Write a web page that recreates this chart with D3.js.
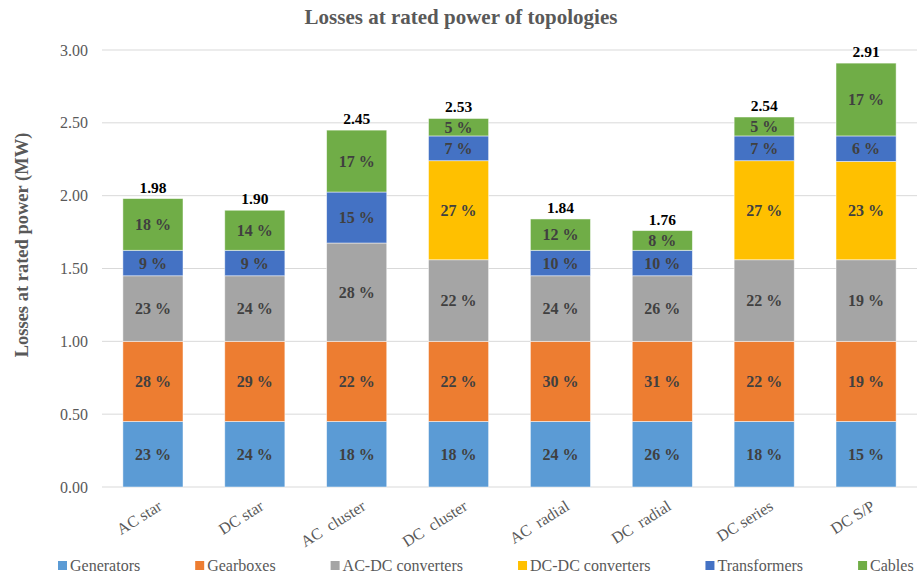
<!DOCTYPE html>
<html>
<head>
<meta charset="utf-8">
<script src="https://cdn.jsdelivr.net/npm/d3@7"></script>
<style>
  html, body { margin: 0; padding: 0; background: #fff; }
  svg { display: block; }
  text { font-family: "Liberation Serif", "Times New Roman", serif; }
</style>
</head>
<body>
<svg id="chart" width="922" height="576"></svg>
<script>
// ---- data ----
const categories = ["AC star", "DC star", "AC  cluster", "DC  cluster", "AC  radial", "DC  radial", "DC series", "DC S/P"];
const seriesNames = ["Generators", "Gearboxes", "AC-DC converters", "DC-DC converters", "Transformers", "Cables"];
const generators   = [0.45, 0.45, 0.45, 0.45, 0.45, 0.45, 0.45, 0.45];
const gearboxes    = [0.55, 0.55, 0.55, 0.55, 0.55, 0.55, 0.55, 0.55];
const acdc         = [0.45, 0.45, 0.675, 0.56, 0.45, 0.45, 0.56, 0.56];
const dcdc         = [0, 0, 0, 0.68, 0, 0, 0.68, 0.675];
const transformers = [0.175, 0.175, 0.35, 0.17, 0.175, 0.175, 0.17, 0.175];
const cables       = [0.355, 0.275, 0.425, 0.12, 0.215, 0.135, 0.13, 0.5];
const genPct    = [23, 24, 18, 18, 24, 26, 18, 15];
const gearPct   = [28, 29, 22, 22, 30, 31, 22, 19];
const acdcPct   = [23, 24, 28, 22, 24, 26, 22, 19];
const dcdcPct   = [null, null, null, 27, null, null, 27, 23];
const transPct  = [9, 9, 15, 7, 10, 10, 7, 6];
const cablesPct = [18, 14, 17, 5, 12, 8, 5, 17];
const yTicks = [0, 0.5, 1.0, 1.5, 2.0, 2.5, 3.0];
const colors = ["#5B9BD5", "#ED7D31", "#A5A5A5", "#FFC000", "#4472C4", "#70AD47"];

const seriesValues = [generators, gearboxes, acdc, dcdc, transformers, cables];
const seriesPct = [genPct, gearPct, acdcPct, dcdcPct, transPct, cablesPct];

// ---- layout ----
const svg = d3.select("#chart");
const pLeft = 102, pRight = 917, pTop = 50, pBottom = 487;

const x = d3.scaleBand().domain(categories).range([pLeft, pRight]).paddingInner(0.41).paddingOuter(0.205);
const y = d3.scaleLinear().domain([0, 3]).range([pBottom, pTop]);

const table = categories.map((c, i) => {
  const row = { cat: c };
  seriesNames.forEach((s, j) => row[s] = seriesValues[j][i]);
  return row;
});
const stacked = d3.stack().keys(seriesNames)(table);

// gridlines
svg.append("g").selectAll("line").data(yTicks).join("line")
  .attr("x1", pLeft).attr("x2", pRight)
  .attr("y1", d => y(d)).attr("y2", d => y(d))
  .attr("stroke", "#D9D9D9").attr("stroke-width", 1);

// y axis tick labels
const yAxis = d3.axisLeft(y).tickValues(yTicks).tickFormat(d3.format(".2f")).tickSize(0).tickPadding(14);
const yg = svg.append("g").attr("transform", `translate(${pLeft},0)`).call(yAxis);
yg.select(".domain").remove();
yg.selectAll("text").attr("font-size", 16).attr("fill", "#595959")
  .style("font-family", '"Liberation Serif", serif');

// bars
const layers = svg.append("g").selectAll("g").data(stacked).join("g")
  .attr("fill", (d, i) => colors[i]);
layers.selectAll("rect").data(d => d).join("rect")
  .attr("x", d => x(d.data.cat))
  .attr("width", x.bandwidth())
  .attr("y", d => y(d[1]))
  .attr("height", d => Math.max(0, y(d[0]) - y(d[1])))
  .attr("stroke", "rgba(255,255,255,0.6)").attr("stroke-width", 0.8);

// percentage labels
stacked.forEach((layer, j) => {
  svg.append("g").selectAll("text").data(layer.map((d, i) => ({ d, i })).filter(o => seriesPct[j][o.i] != null))
    .join("text")
    .attr("x", o => x(o.d.data.cat) + x.bandwidth() / 2)
    .attr("y", o => (y(o.d[0]) + y(o.d[1])) / 2)
    .attr("dy", "0.35em")
    .attr("text-anchor", "middle")
    .attr("font-size", 16).attr("font-weight", "bold").attr("fill", "#404040")
    .text(o => seriesPct[j][o.i] + " %");
});

// totals
svg.append("g").selectAll("text").data(table).join("text")
  .attr("x", d => x(d.cat) + x.bandwidth() / 2)
  .attr("y", (d, i) => y(d3.sum(seriesValues, s => s[i])) - 6)
  .attr("text-anchor", "middle")
  .attr("font-size", 15.5).attr("font-weight", "bold").attr("fill", "#000")
  .text((d, i) => d3.format(".2f")(d3.sum(seriesValues, s => s[i])));

// x labels
svg.append("g").selectAll("text").data(categories).join("text")
  .attr("transform", d => `translate(${x(d) + x.bandwidth() / 2 + 10},${pBottom + 22}) rotate(-32)`)
  .attr("text-anchor", "end")
  .attr("font-size", 16).attr("fill", "#595959")
  .style("white-space", "pre")
  .text(d => d);

// title
svg.append("text").attr("x", 461).attr("y", 24).attr("text-anchor", "middle")
  .attr("font-size", 21).attr("font-weight", "bold").attr("fill", "#595959")
  .text("Losses at rated power of topologies");

// y axis title
svg.append("text").attr("transform", "translate(28,245) rotate(-90)").attr("text-anchor", "middle")
  .attr("font-size", 18.5).attr("font-weight", "bold").attr("fill", "#595959")
  .text("Losses at rated power (MW)");

// legend
const lg = svg.append("g");
let lx = 58;
seriesNames.forEach((s, i) => {
  lg.append("rect").attr("x", lx).attr("y", 561).attr("width", 9).attr("height", 9).attr("fill", colors[i]);
  const t = lg.append("text").attr("x", lx + 12).attr("y", 571)
    .attr("font-size", 16).attr("fill", "#595959").text(s);
  lx += 12 + t.node().getComputedTextLength() + 55;
});
</script>
</body>
</html>
